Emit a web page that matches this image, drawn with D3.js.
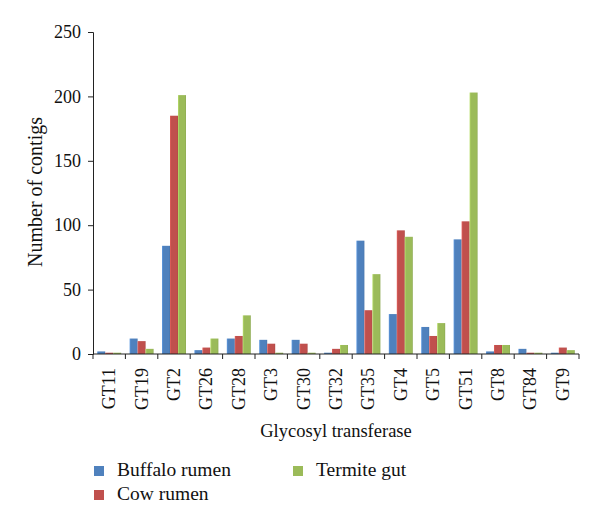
<!DOCTYPE html>
<html>
<head>
<meta charset="utf-8">
<script src="https://cdn.jsdelivr.net/npm/d3@7"></script>
<style>
  body { margin: 0; background: #fff; }
  text { font-family: "Liberation Serif", "DejaVu Serif", serif; fill: #111; }
</style>
</head>
<body>
<script>
var svg_w = 600
var svg_h = 527

// data
var categories = ["GT11","GT19","GT2","GT26","GT28","GT3","GT30","GT32","GT35","GT4","GT5","GT51","GT8","GT84","GT9"]
var buffalo = [2, 12, 84, 3, 12, 11, 11, 1, 88, 31, 21, 89, 2, 4, 1]
var cow     = [1, 10, 185, 5, 14, 8, 8, 4, 34, 96, 14, 103, 7, 1, 5]
var termite = [1, 4, 201, 12, 30, 1, 1, 7, 62, 91, 24, 203, 7, 1, 3]
var series_names = ["Buffalo rumen", "Cow rumen", "Termite gut"]
var series_colors = ["#4f81bd", "#c0504d", "#9bbb59"]
var y_ticks = [0, 50, 100, 150, 200, 250]

var series = [buffalo, cow, termite]

var svg = d3.select("body")
        .append("svg")
        .attr("width", svg_w)
        .attr("height", svg_h)

var m_left = 93, m_right = 579, m_top = 32, m_bottom = 354

var xscale = d3.scaleBand().domain(categories).range([m_left, m_right])
                .paddingInner(0.26).paddingOuter(0.13)
var xsub = d3.scaleBand().domain([0,1,2]).range([0, xscale.bandwidth()])
var yscale = d3.scaleLinear().domain([0, 250]).range([m_bottom, m_top])

// bar gradients, a bit of the excel bevel look
var defs = svg.append("defs")
series_colors.forEach((c, i) => {
    var g = defs.append("linearGradient").attr("id", "grad" + i)
            .attr("x1", "0%").attr("x2", "100%").attr("y1", "0%").attr("y2", "0%")
    var light = d3.color(c).brighter(0.5)
    g.append("stop").attr("offset", "0%").attr("stop-color", light)
    g.append("stop").attr("offset", "18%").attr("stop-color", c)
    g.append("stop").attr("offset", "85%").attr("stop-color", c)
    g.append("stop").attr("offset", "100%").attr("stop-color", d3.color(c).darker(0.3))
})

// bars
series.forEach((vals, s) => {
    svg.append("g").selectAll("rect")
        .data(vals)
        .enter()
        .append("rect")
        .attr("x", (d, i) => xscale(categories[i]) + xsub(s))
        .attr("y", d => yscale(d))
        .attr("width", xsub.bandwidth())
        .attr("height", d => m_bottom - yscale(d))
        .attr("fill", "url(#grad" + s + ")")
})

// y axis
var yaxis = svg.append("g")
    .attr("transform", "translate(" + m_left + ",0)")
    .call(d3.axisLeft(yscale).tickValues(y_ticks).tickSize(5).tickPadding(7))
yaxis.selectAll("text").style("font-size", "18px")
yaxis.select(".domain").attr("stroke", "#222")
yaxis.selectAll(".tick line").attr("stroke", "#222")

// x axis: ticks between the categories
var step = xscale.step()
var bounds = d3.range(categories.length + 1).map(i => m_left + i * step)
var xg = svg.append("g")
xg.append("line").attr("x1", m_left).attr("x2", m_right).attr("y1", m_bottom).attr("y2", m_bottom)
    .attr("stroke", "#222")
xg.selectAll("line.tk").data(bounds).enter().append("line").attr("class", "tk")
    .attr("x1", d => d).attr("x2", d => d).attr("y1", m_bottom).attr("y2", m_bottom + 5)
    .attr("stroke", "#222")
xg.selectAll("text").data(categories).enter().append("text")
    .attr("transform", d => "translate(" + (xscale(d) + xscale.bandwidth() / 2 + 6) + "," + (m_bottom + 14) + ") rotate(-90)")
    .attr("text-anchor", "end")
    .style("font-size", "18px")
    .text(d => d)

// axis titles
svg.append("text")
    .attr("x", (m_left + m_right) / 2).attr("y", 437)
    .attr("text-anchor", "middle")
    .style("font-size", "18.5px")
    .text("Glycosyl transferase")

svg.append("text")
    .attr("transform", "translate(42,192) rotate(-90)")
    .attr("text-anchor", "middle")
    .style("font-size", "20px")
    .text("Number of contigs")

// legend
var leg_pos = [[94, 466], [94, 490], [293, 466]]
var leg = svg.append("g")
series_names.forEach((n, i) => {
    leg.append("rect").attr("x", leg_pos[i][0]).attr("y", leg_pos[i][1])
        .attr("width", 10).attr("height", 10).attr("fill", series_colors[i])
    leg.append("text").attr("x", leg_pos[i][0] + 23).attr("y", leg_pos[i][1] + 10)
        .style("font-size", "19.5px")
        .text(n)
})
</script>
</body>
</html>
